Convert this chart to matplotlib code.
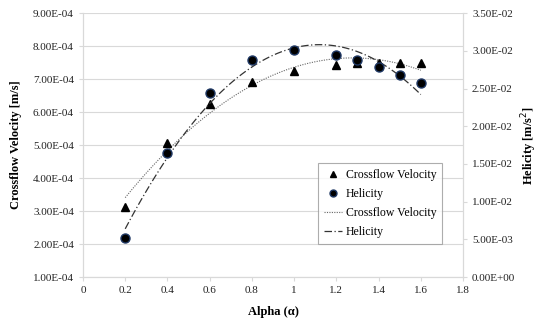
import numpy as np
import matplotlib.pyplot as plt
from matplotlib.ticker import FormatStrFormatter
from matplotlib.lines import Line2D

plt.rcParams['font.family'] = ['Liberation Serif', 'DejaVu Serif']

alpha = [0.2, 0.4, 0.6, 0.8, 1.0, 1.2, 1.3, 1.4, 1.5, 1.6]
crossflow = [3.12e-4, 5.06e-4, 6.24e-4, 6.90e-4, 7.24e-4, 7.42e-4, 7.48e-4, 7.50e-4, 7.50e-4, 7.50e-4]
helicity = [5.2e-3, 1.64e-2, 2.44e-2, 2.88e-2, 3.01e-2, 2.94e-2, 2.88e-2, 2.79e-2, 2.68e-2, 2.57e-2]

fig = plt.figure(figsize=(5.39, 3.2), dpi=100)
ax = fig.add_axes([0.154, 0.134, 0.705, 0.825])
ax2 = ax.twinx()

grid_c = '#d9d9d9'
ax.set_xlim(0, 1.8)
ax.set_ylim(1e-4, 9e-4)
ax.set_yticks(np.arange(1e-4, 9.01e-4, 1e-4))
ax.set_xticks([0, 0.2, 0.4, 0.6, 0.8, 1, 1.2, 1.4, 1.6, 1.8])
ax.set_xticklabels(['0', '0.2', '0.4', '0.6', '0.8', '1', '1.2', '1.4', '1.6', '1.8'])
ax.yaxis.set_major_formatter(FormatStrFormatter('%.2E'))
ax.yaxis.grid(True, color=grid_c, lw=0.8)
ax.set_axisbelow(True)

ax2.set_ylim(0, 3.5e-2)
ax2.set_yticks(np.arange(0, 3.51e-2, 5e-3))
ax2.yaxis.set_major_formatter(FormatStrFormatter('%.2E'))

for a in (ax, ax2):
    for s in a.spines.values():
        s.set_color(grid_c)
    a.spines['top'].set_visible(False)
    a.tick_params(colors=grid_c, labelcolor='#222222', labelsize=8, length=3)

# trend lines (2nd order polynomial fit)
xs = np.linspace(0.2, 1.6, 100)
cf_fit = np.polyval(np.polyfit(alpha, crossflow, 2), xs)
he_fit = np.polyval(np.polyfit(alpha, helicity, 2), xs)
ax.plot(xs, cf_fit, ls=(0, (1, 1.2)), color='#666666', lw=0.8)
ax2.plot(xs, he_fit, ls=(0, (6, 2, 1, 2)), color='#333333', lw=0.9)

ax.plot(alpha, crossflow, '^', color='black', ms=5.5, zorder=5)
ax2.plot(alpha, helicity, 'o', mfc='black', mec='#1f3864', ms=6.5, zorder=5)

ax.set_xlabel('Alpha (α)', fontsize=9, fontweight='bold', labelpad=8)
ax.set_ylabel('Crossflow Velocity [m/s]', fontsize=9, fontweight='bold', labelpad=8)
ax2.set_ylabel('Helicity [m/s$^2$]', fontsize=9, fontweight='bold', labelpad=3)

handles = [
    Line2D([], [], marker='^', ls='none', color='black', ms=5),
    Line2D([], [], marker='o', ls='none', mfc='black', mec='#1f3864', ms=5),
    Line2D([], [], ls=(0, (1, 1.2)), color='#666666', lw=0.8),
    Line2D([], [], ls=(0, (6, 2, 1, 2)), color='#333333', lw=0.9),
]
labels = ['Crossflow Velocity', 'Helicity', 'Crossflow Velocity', 'Helicity']
leg = ax2.legend(handles, labels, loc='upper left', bbox_to_anchor=(0.604, 0.455),
                 fontsize=8.5, frameon=True, fancybox=False, handlelength=1.5,
                 handletextpad=0.3, borderpad=0.5, labelspacing=0.6)
leg.get_frame().set_edgecolor('#999999')
leg.get_frame().set_linewidth(0.8)

fig.savefig('out.png', dpi=100)
